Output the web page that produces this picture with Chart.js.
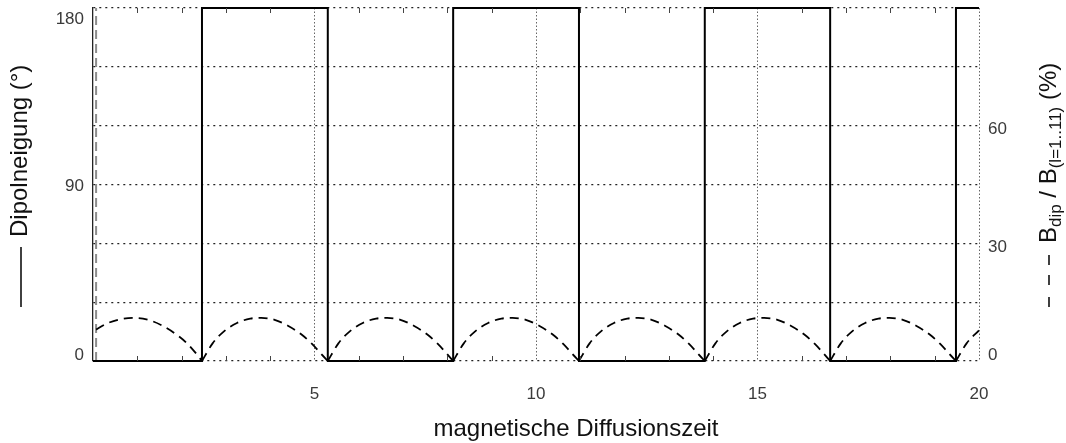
<!DOCTYPE html>
<html lang="de">
<head>
<meta charset="utf-8">
<title>Dipolneigung</title>
<script src="https://cdn.jsdelivr.net/npm/chart.js@4.4.1/dist/chart.umd.min.js"></script>
<style>
  html, body { margin: 0; padding: 0; background: #fff; }
  #wrap { width: 1066px; height: 443px; position: relative; }
</style>
</head>
<body>
<div id="wrap"><canvas id="dipolChart"></canvas></div>
<script>
// Umpolungen: Dipolneigung (°) springt zwischen 0 und 180
const tiltTimes = [0, 2.46, 5.30, 8.13, 10.97, 13.81, 16.64, 19.48, 20];
const tiltValues = [0, 180, 0, 180, 0, 180, 0, 180, 180];

// Dipolanteil B_dip / B_(l=1..11) in %, ein Bogen pro Polaritaetsintervall (null trennt die Boegen)
const ratioTimes = [
  0.07, 0.30, 0.60, 0.95, 1.30, 1.60, 1.90, 2.15, 2.35, 2.46, 2.46,
  2.46, 2.70, 2.95, 3.25, 3.55, 3.80, 4.10, 4.40, 4.70, 4.95, 5.15, 5.30, 5.30,
  5.30, 5.54, 5.79, 6.09, 6.39, 6.64, 6.94, 7.24, 7.54, 7.79, 7.99, 8.13, 8.13,
  8.13, 8.37, 8.62, 8.92, 9.22, 9.47, 9.77, 10.07, 10.37, 10.62, 10.82, 10.97, 10.97,
  10.97, 11.21, 11.46, 11.76, 12.06, 12.31, 12.61, 12.91, 13.21, 13.46, 13.66, 13.81, 13.81,
  13.81, 14.05, 14.30, 14.60, 14.90, 15.15, 15.45, 15.75, 16.05, 16.30, 16.50, 16.64, 16.64,
  16.64, 16.88, 17.13, 17.43, 17.73, 17.98, 18.28, 18.58, 18.88, 19.13, 19.33, 19.48, 19.48,
  19.48, 19.72, 20.00
];
const ratioValues = [
  8.0, 9.5, 10.6, 11.0, 10.3, 8.8, 6.6, 4.2, 1.6, 0, null,
  0, 4.5, 7.5, 9.7, 10.8, 11.0, 10.5, 9.0, 6.8, 4.3, 1.8, 0, null,
  0, 4.5, 7.5, 9.7, 10.8, 11.0, 10.5, 9.0, 6.8, 4.3, 1.8, 0, null,
  0, 4.5, 7.5, 9.7, 10.8, 11.0, 10.5, 9.0, 6.8, 4.3, 1.8, 0, null,
  0, 4.5, 7.5, 9.7, 10.8, 11.0, 10.5, 9.0, 6.8, 4.3, 1.8, 0, null,
  0, 4.5, 7.5, 9.7, 10.8, 11.0, 10.5, 9.0, 6.8, 4.3, 1.8, 0, null,
  0, 4.5, 7.5, 9.7, 10.8, 11.0, 10.5, 9.0, 6.8, 4.3, 1.8, 0, null,
  0, 4.5, 7.8
];

// Einschwingen direkt am Start
const startTimes = [0.07, 0.07];
const startValues = [0, 180];

const leftTicks = [0, 90, 180];
const rightTicks = [0, 30, 60];
const timeTicks = [5, 10, 15, 20];

const FONT = '"Liberation Sans", Arial, Helvetica, sans-serif';

function toPoints(xs, ys) {
  return xs.map((x, i) => ({ x: x, y: ys[i] }));
}

// Rahmen, Teilstriche, Achsenbeschriftungen
const framePlugin = {
  id: 'frame',
  afterDraw(chart) {
    const { ctx, chartArea: a, scales } = chart;
    const x = scales.x, y = scales.y, y2 = scales.y2;
    ctx.save();

    // kleine Teilstriche oben und unten, nach innen
    ctx.strokeStyle = '#444';
    ctx.lineWidth = 1;
    ctx.beginPath();
    for (let v = 1; v < 20; v++) {
      if (v % 5 === 0) continue;
      const px = Math.round(x.getPixelForValue(v)) + 0.5;
      ctx.moveTo(px, a.bottom);
      ctx.lineTo(px, a.bottom - 5);
      ctx.moveTo(px, a.top);
      ctx.lineTo(px, a.top + 5);
    }
    ctx.stroke();

    // Zahlen an den y-Achsen
    ctx.font = '17px ' + FONT;
    ctx.fillStyle = '#3a3a3a';
    ctx.textBaseline = 'middle';
    ctx.textAlign = 'right';
    leftTicks.forEach(v => {
      const py = Math.min(Math.max(y.getPixelForValue(v) + 2, a.top + 11), a.bottom - 6);
      ctx.fillText(String(v), a.left - 9, py);
    });
    ctx.textAlign = 'left';
    rightTicks.forEach(v => {
      const py = Math.min(y2.getPixelForValue(v) + 4, a.bottom - 6);
      ctx.fillText(String(v), a.right + 9, py);
    });

    // x-Achsentitel
    ctx.font = '24px ' + FONT;
    ctx.fillStyle = '#111';
    ctx.strokeStyle = '#111';
    ctx.lineWidth = 1.6;
    ctx.textAlign = 'center';
    ctx.textBaseline = 'alphabetic';
    ctx.fillText('magnetische Diffusionszeit', 576, 436);

    // linker Titel mit durchgezogener Linie
    ctx.save();
    ctx.translate(27, 0);
    ctx.rotate(-Math.PI / 2);
    ctx.beginPath();
    ctx.moveTo(-307, -6);
    ctx.lineTo(-247, -6);
    ctx.stroke();
    ctx.textAlign = 'left';
    ctx.fillText('Dipolneigung (°)', -237, 0);
    ctx.restore();

    // rechter Titel mit gestrichelter Linie und Indizes
    ctx.save();
    ctx.translate(1056, 0);
    ctx.rotate(-Math.PI / 2);
    ctx.beginPath();
    [[-307, -297], [-285, -275], [-265, -255]].forEach(d => {
      ctx.moveTo(d[0], -7);
      ctx.lineTo(d[1], -7);
    });
    ctx.stroke();
    ctx.textAlign = 'left';
    const parts = [
      ['B', 24, 0], ['dip', 17, 5], [' / B', 24, 0], ['(l=1..11)', 17, 5], [' (%)', 24, 0]
    ];
    let u = -243;
    parts.forEach(p => {
      ctx.font = p[1] + 'px ' + FONT;
      ctx.fillText(p[0], u, p[2]);
      u += ctx.measureText(p[0]).width;
    });
    ctx.restore();

    ctx.restore();
  }
};

new Chart(document.getElementById('dipolChart'), {
  type: 'line',
  data: {
    datasets: [
      {
        label: 'Dipolneigung',
        data: toPoints(tiltTimes, tiltValues),
        yAxisID: 'y',
        stepped: 'before',
        borderColor: '#000',
        borderWidth: 2,
        pointRadius: 0,
        clip: false
      },
      {
        label: 'B_dip / B_(l=1..11)',
        data: toPoints(ratioTimes, ratioValues),
        yAxisID: 'y2',
        borderColor: '#000',
        borderWidth: 1.8,
        borderDash: [9, 6],
        cubicInterpolationMode: 'monotone',
        tension: 0.4,
        spanGaps: false,
        pointRadius: 0
      },
      {
        label: 'Start',
        data: toPoints(startTimes, startValues),
        yAxisID: 'y',
        borderColor: '#8c8c8c',
        borderWidth: 2,
        borderDash: [9, 5],
        pointRadius: 0
      }
    ]
  },
  options: {
    responsive: true,
    maintainAspectRatio: false,
    animation: false,
    devicePixelRatio: 1,
    layout: { padding: { top: 8, left: 0, right: 0, bottom: 0 } },
    plugins: { legend: { display: false }, tooltip: { enabled: false } },
    scales: {
      x: {
        type: 'linear',
        min: 0,
        max: 20,
        afterBuildTicks: scale => { scale.ticks = timeTicks.map(v => ({ value: v })); },
        afterFit: scale => { scale.height = 82; },
        ticks: {
          color: '#3a3a3a',
          font: { family: FONT, size: 17 },
          padding: 23,
          maxRotation: 0,
          autoSkip: false
        },
        grid: { color: '#666', lineWidth: 1, drawTicks: false },
        border: { display: false, dash: [1.5, 2] }
      },
      y: {
        position: 'left',
        min: 0,
        max: 180,
        ticks: { stepSize: 30, display: false },
        afterFit: scale => { scale.width = 93; },
        grid: { color: '#222', lineWidth: 1.3, drawTicks: false },
        border: { display: true, color: '#222', width: 1.3, dash: [2, 4] }
      },
      y2: {
        position: 'right',
        min: 0,
        max: 90,
        ticks: { stepSize: 30, display: false },
        afterFit: scale => { scale.width = 87; },
        grid: { display: false, drawOnChartArea: false },
        border: { display: false }
      }
    }
  },
  plugins: [framePlugin]
});
</script>
</body>
</html>
